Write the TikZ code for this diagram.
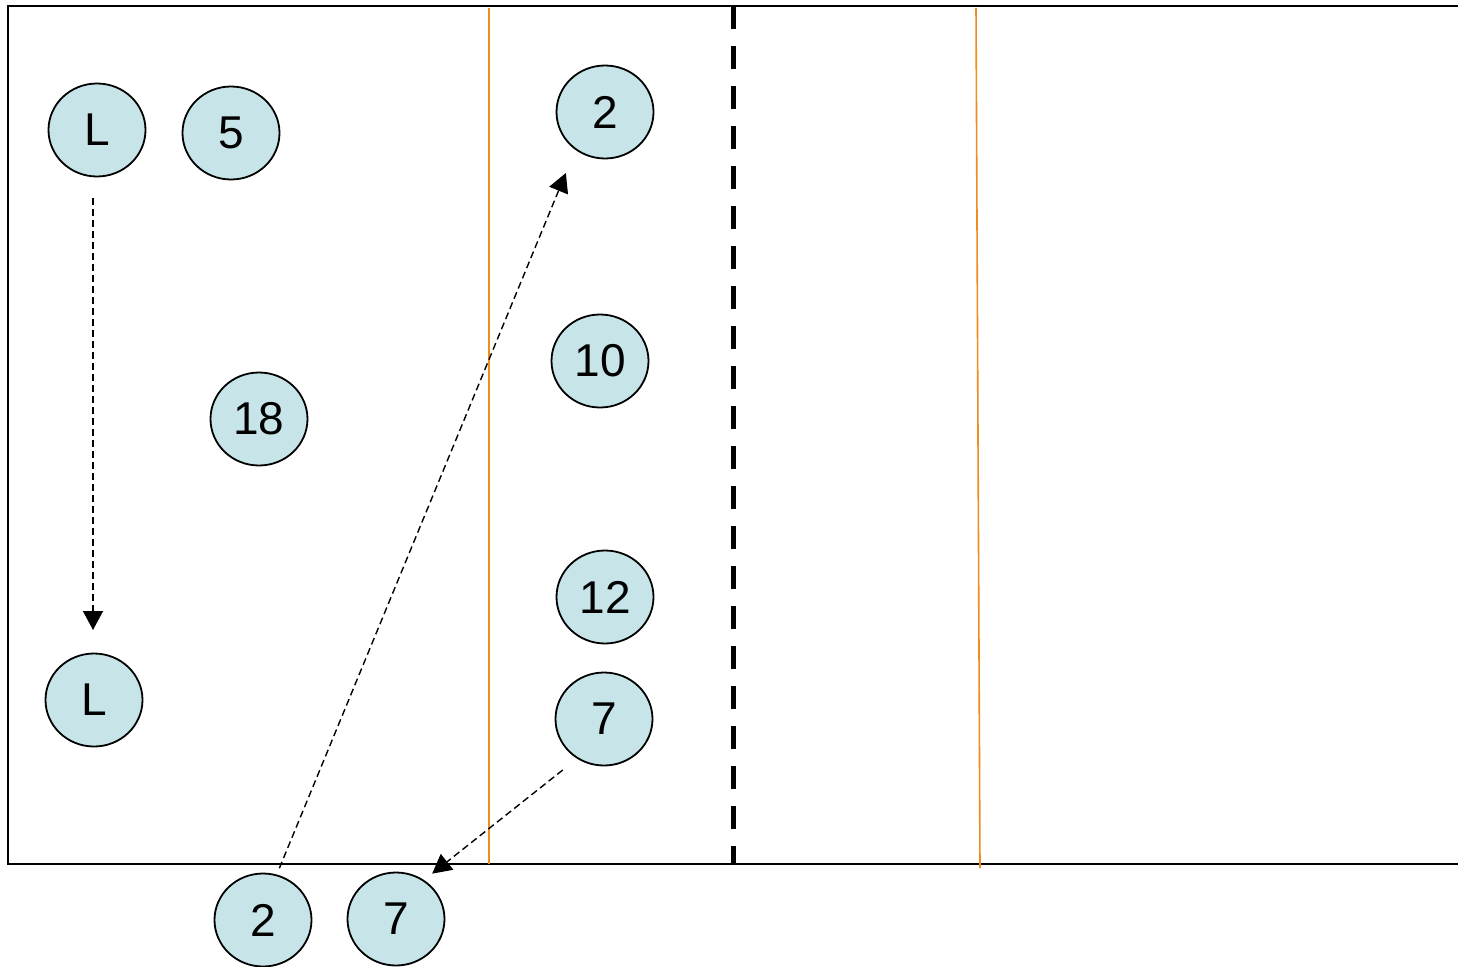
\documentclass[tikz,border=0pt]{standalone}
\usepackage{fontspec}
\setmainfont{Liberation Sans}
\usetikzlibrary{shapes.geometric,arrows.meta}
\definecolor{playerfill}{RGB}{199,229,232}
\definecolor{zonecolor}{RGB}{240,140,30}

\begin{document}
\begin{tikzpicture}[
	x=1pt, y=-1pt,
	player/.style={ellipse, draw, line width=1.8pt, fill=playerfill,
		minimum width=97pt, minimum height=93pt, inner sep=0pt,
		font=\fontsize{46}{50}\selectfont},
	move/.style={-{Triangle[length=19pt, width=20pt]}, line width=1.4pt,
		dash pattern=on 7pt off 4pt},
	every node/.style={outer sep=0pt},
]
\useasboundingbox (0,0) rectangle (1458,966);
% court lines
\draw[line width=1.8pt] (1458,6) -- (8,6) -- (8,864) -- (1458,864);
\draw[zonecolor, line width=1.6pt] (489,8) -- (489,864);
\draw[zonecolor, line width=1.6pt] (976,8) -- (980,868);
\draw[line width=5pt, dash pattern=on 23pt off 17pt] (733,6) -- (733,864);
% players
\node[player] (L1) at (97,130) {L};
\node[player] (P5) at (231,133) {5};
\node[player] (P2) at (605,112) {2};
\node[player] (P10) at (600,361) {10};
\node[player] (P18) at (259,419) {18};
\node[player] (P12) at (605,597) {12};
\node[player] (P7) at (604,719) {7};
\node[player] (L2) at (94,700) {L};
\node[player] (B2) at (263,920) {2};
\node[player] (B7) at (396,919) {7};
% movements
\draw[move, shorten <=68pt, shorten >=70pt]
	([xshift=-4pt]L1.center) -- ([xshift=-1pt]L2.center);
\draw[move, shorten <=56pt, shorten >=66pt]
	([xshift=-5pt]B2.center) -- ([xshift=-14pt]P2.center);
\draw[move, shorten <=82pt, shorten >=73pt]
	([xshift=23pt]P7.center) -- ([xshift=-21pt]B7.center);
\end{tikzpicture}
\end{document}
